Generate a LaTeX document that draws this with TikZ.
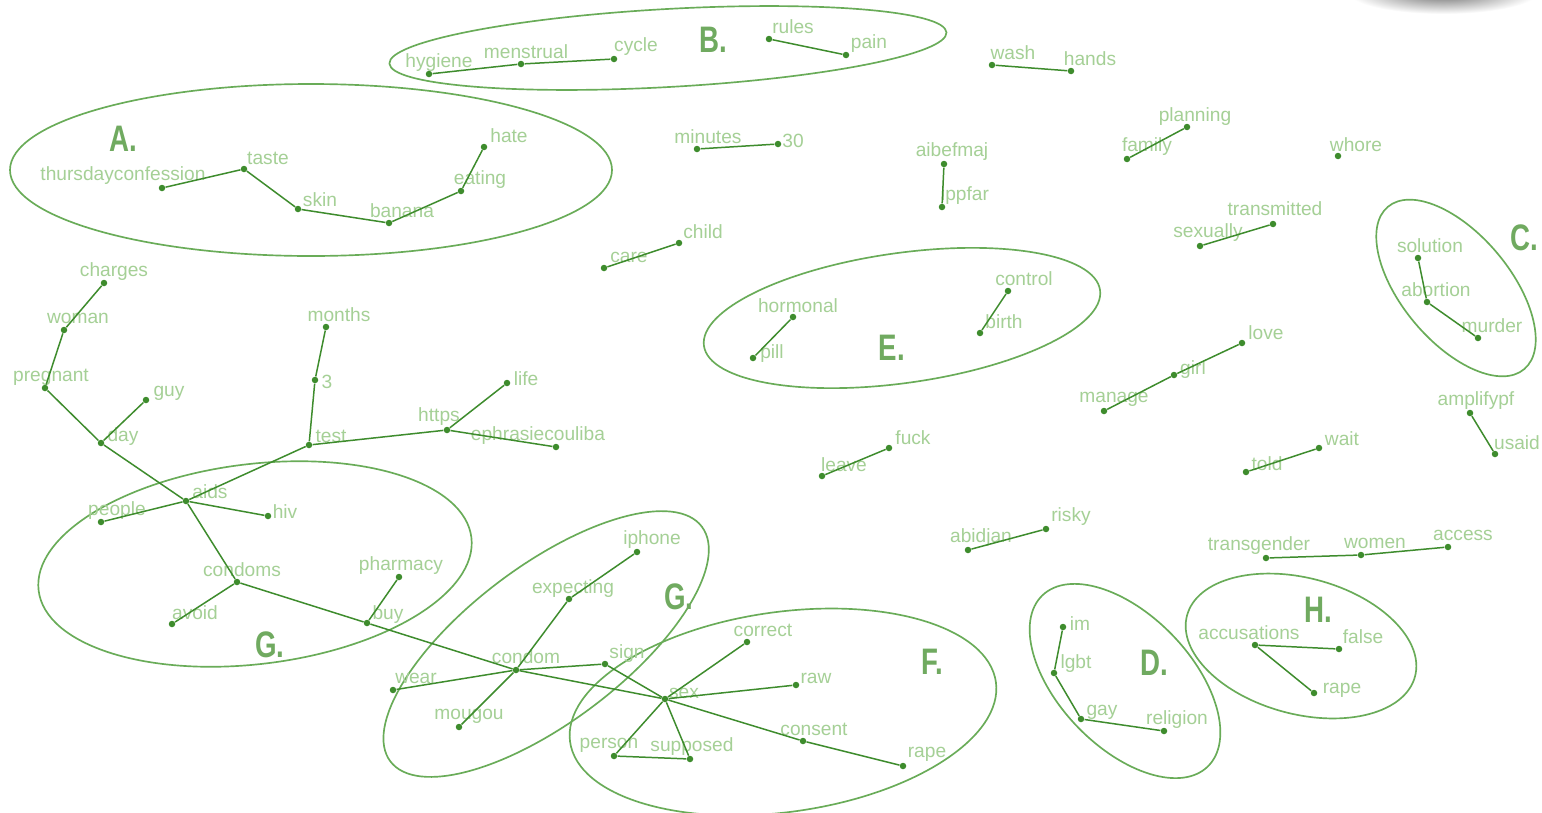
\documentclass[tikz,border=0pt]{standalone}
\usepackage{fontspec}
\usepackage{graphicx}
\setmainfont{Liberation Sans}
\definecolor{edgegreen}{RGB}{62,140,45}
\definecolor{wordgreen}{RGB}{165,208,150}
\definecolor{ringgreen}{RGB}{105,172,88}
\definecolor{taggreen}{RGB}{112,170,96}
\begin{document}
\begin{tikzpicture}[
    x=0.02cm, y=-0.02cm,
    word/.style={text=wordgreen, inner sep=0pt, font=\fontsize{10.9}{12}\selectfont},
    dot/.style={circle, fill=edgegreen, inner sep=0pt, minimum size=0.13cm},
    edge/.style={draw=edgegreen, line width=0.85pt},
    ring/.style={draw=ringgreen, line width=0.95pt},
    tag/.style={text=taggreen, inner sep=0pt, font=\fontsize{21}{24}\selectfont\bfseries}
]
  \path[fill=white, use as bounding box] (0,0) rectangle (1542,812);
  \shade[inner color=black!60, outer color=white] (1443,-8) ellipse [x radius=95, y radius=22];

  % ===== clusters =====
  \coordinate (cA) at (311,170);
  \coordinate (cB) at (668,48);
  \coordinate (cC) at (1456,288);
  \coordinate (cD) at (1125,681);
  \coordinate (cE) at (902,318);
  \coordinate (cF) at (783,712);
  \coordinate (cG) at (255,564);
  \coordinate (cGG) at (546,644);
  \coordinate (cH) at (1301,646);
  \draw[ring] (cA) ellipse [x radius=301, y radius=86];
  \draw[ring, rotate around={3.2:(cB)}] (cB) ellipse [x radius=279, y radius=39];
  \draw[ring, rotate around={-50:(cC)}] (cC) ellipse [x radius=106, y radius=54];
  \draw[ring, rotate around={-46:(cD)}] (cD) ellipse [x radius=119, y radius=66];
  \draw[ring, rotate around={8:(cE)}] (cE) ellipse [x radius=200, y radius=65];
  \draw[ring, rotate around={8:(cF)}] (cF) ellipse [x radius=215, y radius=100];
  \draw[ring, rotate around={7:(cG)}] (cG) ellipse [x radius=218, y radius=100];
  \draw[ring, rotate around={37:(cGG)}] (cGG) ellipse [x radius=195, y radius=78];
  \draw[ring, rotate around={-15:(cH)}] (cH) ellipse [x radius=118, y radius=68];

  \foreach \n/\x/\y/\t in {A/123/139/A.,B/713/40/B.,C/1524/238/C.,D/1154/663/D.,E/892/348/E.,
      F/932/662/F.,G/270/645/G.,GG/679/597/G.,H/1318/610/H.}
    \node[tag] (tag\n) at (\x,\y) {\scalebox{0.75}[1]{\t}};

  % ===== words (dot, then label) =====
  \foreach \n/\x/\y/\lx/\ly/\w in {
      thursday/162/188/123/176/thursdayconfession, taste/244/169/268/158/taste,
      skin/298/209/320/200/skin, banana/389/223/402/211/banana,
      eating/461/191/480/180/eating, hate/484/147/509/136/hate,
      hygiene/429/74/439/63/hygiene, menstrual/521/64/526/52/menstrual,
      cycle/614/59/636/47/cycle, rules/769/39/793/27/rules, pain/846/55/869/44/pain,
      wash/992/65/1013/53/wash, hands/1071/71/1090/59/hands,
      minutes/697/149/708/137/minutes, thirty/778/144/793/141/30,
      aibefmaj/944/164/952/152/aibefmaj, ippfar/942/207/965/196/ippfar,
      planning/1187/127/1195/117/planning, family/1127/159/1147/147/family,
      whore/1338/156/1356/145/whore,
      transmitted/1273/224/1275/209/transmitted, sexually/1200/246/1208/233/sexually,
      care/604/268/629/257/care, child/679/243/703/232/child,
      solution/1418/258/1430/246/solution, abortion/1427/302/1436/290/abortion,
      murder/1478/338/1492/326/murder,
      hormonal/793/317/798/306/hormonal, pill/753/358/772/354/pill,
      control/1008/291/1024/279/control, birth/980/333/1004/322/birth,
      love/1242/343/1266/333/love, girl/1174/375/1193/370/girl,
      manage/1104/411/1114/399/manage,
      told/1246/472/1267/464/told, wait/1319/448/1342/439/wait,
      amplifypf/1470/413/1476/401/amplifypf, usaid/1495/454/1517/443/usaid,
      leave/822/476/844/465/leave, fuck/889/448/913/438/fuck,
      abidjan/968/550/981/538/abidjan, risky/1046/529/1071/517/risky,
      transgender/1266/558/1259/546/transgender, women/1361/555/1375/543/women,
      access/1448/547/1463/535/access,
      im/1063/627/1080/624/im, lgbt/1054/673/1076/664/lgbt,
      gay/1081/719/1102/712/gay, religion/1164/731/1177/720/religion,
      accusations/1255/645/1249/633/accusations, false/1339/649/1363/637/false,
      rapeH/1314/693/1342/690/rape,
      charges/104/283/114/272/charges, woman/64/330/78/318/woman,
      pregnant/45/388/51/377/pregnant, guy/146/400/169/393/guy, day/101/443/123/437/day,
      months/326/327/339/315/months, three/315/380/327/382/3, test/309/445/331/436/test,
      https/447/430/439/417/https, life/507/383/526/379/life,
      ephrasie/556/447/538/436/ephrasiecouliba,
      aids/186/501/210/492/aids, people/101/522/117/511/people, hiv/268/516/285/512/hiv,
      condoms/237/582/242/570/condoms, avoid/172/624/195/613/avoid,
      pharmacy/399/577/401/566/pharmacy, buy/367/623/388/615/buy,
      iphone/637/552/652/540/iphone, expecting/569/599/573/589/expecting,
      condom/516/670/526/657/condom, sign/605/664/627/654/sign,
      wear/393/690/416/678/wear, mougou/459/727/469/716/mougou,
      sex/665/699/684/693/sex, correct/747/642/763/630/correct,
      raw/796/685/816/678/raw, consent/803/741/814/729/consent,
      rape/903/766/927/754/rape, person/614/756/609/745/person,
      supposed/690/759/692/747/supposed} {
    \node[word] (w-\n) at (\lx,\ly) {\w};
    \node[dot] (\n) at (\x,\y) {};
  }

  % ===== links =====
  \foreach \a/\b in {thursday/taste, taste/skin, skin/banana, banana/eating, eating/hate,
      hygiene/menstrual, menstrual/cycle, rules/pain,
      wash/hands, minutes/thirty, aibefmaj/ippfar, planning/family,
      transmitted/sexually, care/child,
      solution/abortion, abortion/murder, hormonal/pill, control/birth,
      love/girl, girl/manage, told/wait, amplifypf/usaid, leave/fuck, abidjan/risky,
      transgender/women, women/access,
      im/lgbt, lgbt/gay, gay/religion, accusations/false, accusations/rapeH,
      charges/woman, woman/pregnant, pregnant/day, day/guy, day/aids,
      aids/people, aids/hiv, aids/test, test/three, three/months,
      test/https, https/life, https/ephrasie,
      aids/condoms, condoms/avoid, condoms/buy, buy/pharmacy, buy/condom,
      condom/wear, condom/mougou, condom/expecting, expecting/iphone,
      condom/sign, condom/sex, sign/sex,
      sex/correct, sex/raw, sex/consent, consent/rape,
      sex/person, sex/supposed, person/supposed}
    \draw[edge] (\a) -- (\b);
\end{tikzpicture}
\end{document}
